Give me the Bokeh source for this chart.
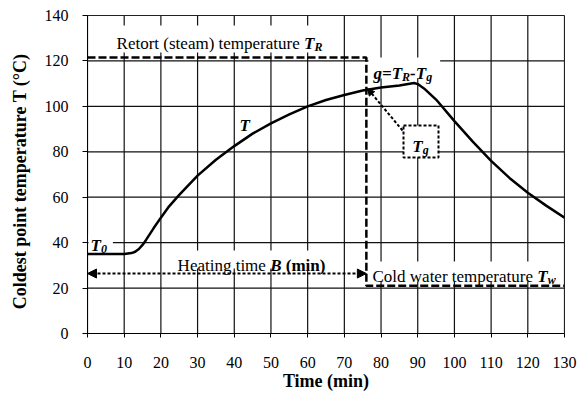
from bokeh.plotting import figure
from bokeh.models import (Range1d, FixedTicker, Label, BoxAnnotation, Arrow,
                          NormalHead)
from bokeh.embed import file_html
from bokeh.resources import INLINE

# ---------------- data ----------------
time_min = [0, 5, 10, 12, 13, 14, 15, 16, 18, 20, 22, 25, 30, 35, 40, 45, 50,
            55, 60, 65, 70, 75, 80, 85, 89, 90, 92, 95, 100, 105, 110, 115,
            120, 125, 130]
temp_c = [35, 35, 35, 35.4, 36, 37.2, 39, 41.3, 46.3, 51, 55.5, 61, 69.5,
          76.5, 82.5, 88, 92.5, 96.5, 100, 102.8, 105, 107, 108.3, 109.2,
          110.3, 109.8, 107.5, 103, 93.5, 84.5, 76, 68.5, 62, 56.3, 51]

retort_t = [0, 76, 76, 130]
retort_T = [121.5, 121.5, 21, 21]

heating_B = 76
heating_arrow_y = 26.4

x_ticks = [0, 10, 20, 30, 40, 50, 60, 70, 80, 90, 100, 110, 120, 130]
y_ticks = [0, 20, 40, 60, 80, 100, 120, 140]
x_min, x_max = 0, 130
y_min, y_max = 0, 140

FONT = "Liberation Serif"
FS = 17
SUB = 12

# ---------------- figure ----------------
p = figure(width=578, height=397, x_range=Range1d(x_min, x_max),
           y_range=Range1d(y_min, y_max), output_backend="svg",
           toolbar_location=None, min_border_left=87, min_border_right=14,
           min_border_top=15, min_border_bottom=64)
p.background_fill_color = "white"
p.border_fill_color = "white"
p.outline_line_color = "#333333"
p.outline_line_width = 1

p.xaxis.ticker = FixedTicker(ticks=x_ticks)
p.yaxis.ticker = FixedTicker(ticks=y_ticks)
for ax in (p.xaxis, p.yaxis):
    ax.axis_line_color = "black"
    ax.major_tick_line_color = "black"
    ax.minor_tick_line_color = None
    ax.major_tick_in = 0
    ax.major_label_text_font = FONT
    ax.major_label_text_font_size = "16px"
    ax.major_label_text_color = "black"
    ax.axis_label_text_font = FONT
    ax.axis_label_text_font_size = "18px"
    ax.axis_label_text_font_style = "bold"
    ax.axis_label_text_color = "black"
p.xaxis.major_tick_out = 4
p.yaxis.major_tick_out = 5
p.xaxis.major_label_standoff = 19
p.xaxis.axis_label_standoff = 0
p.yaxis.major_label_standoff = 14
p.yaxis.axis_label_standoff = 12
p.xaxis.axis_label = "Time (min)"
p.yaxis.axis_label = "Coldest  point  temperature  T (\u00b0C)"

# grid drawn from the tick lists through the plot's scales
p.grid.visible = False
p.segment(x0=x_ticks, y0=[y_min] * len(x_ticks), x1=x_ticks,
          y1=[y_max] * len(x_ticks), line_color="#111111", line_width=1.2,
          level="underlay")
p.segment(x0=[x_min] * len(y_ticks), y0=y_ticks, x1=[x_max] * len(y_ticks),
          y1=y_ticks, line_color="#111111", line_width=1.2,
          level="underlay")

# ---------------- lines ----------------
p.line(retort_t, retort_T, line_color="black", line_width=2.5,
       line_dash="8 3")
p.line(time_min, temp_c, line_color="black", line_width=2.5)

# ---------------- helpers ----------------
XS = 477 / 130.0
YS = 318 / 140.0


def dx(px):
    return (px - 87) / XS


def dy(py):
    return (333 - py) / YS


REG = {' ': 250, '(': 333, ')': 333, 'C': 667, 'H': 722, 'R': 667, 'a': 444,
       'd': 500, 'e': 444, 'g': 500, 'i': 278, 'l': 278, 'm': 778, 'n': 500,
       'o': 500, 'p': 500, 'r': 333, 's': 389, 't': 278, 'u': 500, 'w': 722}
BOLD = {' ': 250, '(': 333, ')': 333, 'i': 278, 'm': 833, 'n': 556}
BI = {'T': 611, 'R': 667, 'B': 667, 'g': 500, 'w': 667, '=': 570, '-': 333,
      '0': 500, ' ': 250}
TABLES = {"normal": REG, "bold": BOLD, "bold italic": BI}


def tw(text, style, size):
    tab = TABLES[style]
    return sum(tab.get(c, 500) for c in text) / 1000.0 * size


def rich(px, py, pieces, align="left", bg=None):
    widths = [tw(t, st, sz) for t, st, sz, off in pieces]
    total = sum(widths)
    start = 0 if align == "left" else -total / 2.0
    x = dx(px)
    y = dy(py)
    if bg is not None:
        pl, pr, above, below = bg
        p.add_layout(BoxAnnotation(
            left=dx(px + start - pl), right=dx(px + start + total + pr),
            top=dy(py - above), bottom=dy(py + below),
            fill_color="white", fill_alpha=1, line_alpha=0))
    off = start
    for (t, st, sz, yoff), w in zip(pieces, widths):
        lead = len(t) - len(t.lstrip(" "))
        shown = t.strip(" ")
        lead_w = tw(" " * lead, st, sz)
        if shown:
            p.add_layout(Label(x=x, y=y, text=shown, x_offset=off + lead_w,
                               y_offset=yoff, text_font=FONT,
                               text_font_size=f"{sz}px",
                               text_font_style=st, text_color="black",
                               text_baseline="alphabetic",
                               text_align="left"))
        off += w


# T_g box
p.quad(left=[dx(403)], right=[dx(438)], top=[dy(125)], bottom=[dy(157)],
       fill_color="white", line_color="black", line_width=2,
       line_dash="3 2")

# labels
rich(219, 43, [("Retort (steam) temperature ", "normal", FS, 0),
               ("T", "bold italic", FS, 0),
               ("R", "bold italic", SUB, -3)],
     align="center", bg=(5, 7, 18, 9))

rich(373, 73, [("g=", "bold italic", FS, 0), ("T", "bold italic", FS, 0),
               ("R", "bold italic", SUB, -3), ("-", "bold italic", FS, 0),
               ("T", "bold italic", FS, 0), ("g", "bold italic", SUB, -3)],
     bg=(5, 8, 16, 5))

rich(420, 146, [("T", "bold italic", FS, 0), ("g", "bold italic", SUB, -3)],
     align="center")

rich(239, 125, [("T", "bold italic", FS, 0)])

rich(90, 245, [("T", "bold italic", FS, 0), ("0", "bold italic", SUB, -3)],
     bg=(2, 6, 12, 6))

rich(251, 265, [("Heating time ", "normal", FS, 0),
                ("B", "bold italic", FS, 0),
                (" (min)", "bold", FS, 0)],
     align="center", bg=(5, 5, 15, 3))

rich(372, 276, [("Cold water temperature ", "normal", FS, 0),
                ("T", "bold italic", FS, 0),
                ("w", "bold italic", SUB, -3)],
     bg=(2, 4, 15, 5))

# arrows
p.add_layout(Arrow(start=NormalHead(size=9, fill_color="black",
                                    line_color="black"),
                   end=NormalHead(size=9, fill_color="black",
                                  line_color="black"),
                   x_start=0, y_start=heating_arrow_y,
                   x_end=heating_B, y_end=heating_arrow_y,
                   line_color="black", line_width=2, line_dash="3 2"))

p.add_layout(Arrow(end=NormalHead(size=7, fill_color="black",
                                  line_color="black"),
                   x_start=dx(402), y_start=dy(130),
                   x_end=dx(367), y_end=dy(88),
                   line_color="black", line_width=2, line_dash="3 2"))

open("out.html", "w").write(file_html(p, INLINE))
